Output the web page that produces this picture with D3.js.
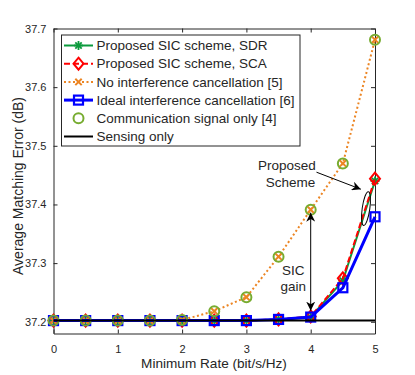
<!doctype html>
<html>
<head>
<meta charset="utf-8">
<title>Matching error vs minimum rate</title>
<script src="https://cdn.jsdelivr.net/npm/d3@7"></script>
<style>
  body { margin: 0; background: #fff; }
  svg text { font-family: "Liberation Sans", Arial, Helvetica, sans-serif; fill: #262626; }
</style>
</head>
<body>
<div class="graphContainer"></div>
<script>
// data
var rates = [0, 0.5, 1, 1.5, 2, 2.5, 3, 3.5, 4, 4.5, 5];
var sdr   = [37.202, 37.202, 37.202, 37.202, 37.202, 37.202, 37.202, 37.204, 37.208, 37.270, 37.440];
var sca   = [37.202, 37.202, 37.202, 37.202, 37.202, 37.202, 37.202, 37.204, 37.209, 37.274, 37.444];
var noCancel = [37.202, 37.202, 37.202, 37.202, 37.203, 37.218, 37.242, 37.311, 37.391, 37.470, 37.681];
var ideal = [37.202, 37.202, 37.202, 37.202, 37.202, 37.202, 37.202, 37.204, 37.208, 37.258, 37.379];
var commOnly = [37.202, 37.202, 37.202, 37.202, 37.203, 37.218, 37.242, 37.311, 37.391, 37.470, 37.681];
var sensingOnly = 37.202;

var xTicks = [0, 1, 2, 3, 4, 5];
var yTicks = [37.2, 37.3, 37.4, 37.5, 37.6, 37.7];

var legendLabels = [
  "Proposed SIC scheme, SDR",
  "Proposed SIC scheme, SCA",
  "No interference cancellation [5]",
  "Ideal interference cancellation [6]",
  "Communication signal only [4]",
  "Sensing only"
];

var w = 415, h = 375;
var axL = 53.5, axR = 375, axT = 28.5, axB = 333.5;

var svg = d3.select(".graphContainer").append("svg")
    .attr("width", w).attr("height", h);

var x = d3.scaleLinear().domain([0, 5]).range([axL, axR]);
var y = d3.scaleLinear().domain([37.18, 37.7]).range([axB, axT]);

var axisColor = "#262626";

// axes box with inward ticks
function styleAxis(g) {
  g.selectAll("path").attr("stroke", axisColor);
  g.selectAll("line").attr("stroke", axisColor);
  g.selectAll("text").style("font-size", "11px").style("fill", axisColor);
}
svg.append("g").attr("transform", "translate(0," + axB + ")")
  .call(d3.axisBottom(x).tickValues(xTicks).tickFormat(d3.format("d")).tickSizeInner(-4).tickSizeOuter(0).tickPadding(12))
  .call(styleAxis);
svg.append("g").attr("transform", "translate(0," + axT + ")")
  .call(d3.axisTop(x).tickValues(xTicks).tickFormat("").tickSizeInner(-4).tickSizeOuter(0))
  .call(styleAxis);
svg.append("g").attr("transform", "translate(" + axL + ",0)")
  .call(d3.axisLeft(y).tickValues(yTicks).tickFormat(d3.format(".1f")).tickSizeInner(-4).tickSizeOuter(0).tickPadding(7))
  .call(styleAxis);
svg.append("g").attr("transform", "translate(" + axR + ",0)")
  .call(d3.axisRight(y).tickValues(yTicks).tickFormat("").tickSizeInner(-4).tickSizeOuter(0))
  .call(styleAxis);

svg.append("text").attr("x", 214).attr("y", 368)
  .attr("text-anchor", "middle").style("font-size", "13.6px").text("Minimum Rate (bit/s/Hz)");
svg.append("text").attr("transform", "translate(18.5,186) rotate(-90)")
  .attr("text-anchor", "middle").attr("dy", "0.35em").style("font-size", "14px").text("Average Matching Error (dB)");

var plot = svg.append("g");

// marker helpers
function marker(g, kind, cx, cy, color) {
  if (kind === "star") {
    var r = 4.5;
    [0, 45, 90, 135].forEach(function(a) {
      var t = a * Math.PI / 180;
      g.append("line").attr("x1", cx - r * Math.cos(t)).attr("y1", cy - r * Math.sin(t))
        .attr("x2", cx + r * Math.cos(t)).attr("y2", cy + r * Math.sin(t))
        .attr("stroke", color).attr("stroke-width", 1.8);
    });
  } else if (kind === "diamond") {
    g.append("path").attr("d", "M" + cx + "," + (cy - 6) + "L" + (cx + 5) + "," + cy + "L" + cx + "," + (cy + 6) + "L" + (cx - 5) + "," + cy + "Z")
      .attr("fill", "none").attr("stroke", color).attr("stroke-width", 2);
  } else if (kind === "x") {
    var s = 3.2;
    g.append("path").attr("d", "M" + (cx - s) + "," + (cy - s) + "L" + (cx + s) + "," + (cy + s) + "M" + (cx - s) + "," + (cy + s) + "L" + (cx + s) + "," + (cy - s))
      .attr("stroke", color).attr("stroke-width", 2);
  } else if (kind === "square") {
    g.append("rect").attr("x", cx - 4.5).attr("y", cy - 4.5).attr("width", 9).attr("height", 9)
      .attr("fill", "none").attr("stroke", color).attr("stroke-width", 2.2);
  } else if (kind === "circle") {
    g.append("circle").attr("cx", cx).attr("cy", cy).attr("r", 5)
      .attr("fill", "none").attr("stroke", color).attr("stroke-width", 2);
  }
}

var series = [
  { vals: sdr, color: "#0b9a3c", width: 2, dash: null, mk: "star" },
  { vals: sca, color: "#ff0000", width: 2, dash: "6,3", mk: "diamond" },
  { vals: noCancel, color: "#ec8523", width: 2, dash: "2,2.5", mk: "x" },
  { vals: ideal, color: "#0000ff", width: 3, dash: null, mk: "square" },
  { vals: commOnly, color: "#77ac30", width: 0, dash: null, mk: "circle" }
];

var line = d3.line().x(function(d, i) { return x(rates[i]); }).y(function(d) { return y(d); });

series.forEach(function(s) {
  var g = plot.append("g");
  if (s.width > 0) {
    g.append("path").datum(s.vals).attr("d", line)
      .attr("fill", "none").attr("stroke", s.color).attr("stroke-width", s.width)
      .attr("stroke-dasharray", s.dash);
  }
  s.vals.forEach(function(v, i) { marker(g, s.mk, x(rates[i]), y(v), s.color); });
});

// sensing only
plot.append("line").attr("x1", x(0)).attr("x2", x(5))
  .attr("y1", y(sensingOnly)).attr("y2", y(sensingOnly))
  .attr("stroke", "#000").attr("stroke-width", 2);

// annotations
var defs = svg.append("defs");
defs.append("marker").attr("id", "arr").attr("viewBox", "0 0 10 10").attr("refX", 10).attr("refY", 5)
  .attr("markerWidth", 9).attr("markerHeight", 9).attr("markerUnits", "userSpaceOnUse").attr("orient", "auto-start-reverse")
  .append("path").attr("d", "M0,0L10,5L0,10L3,5Z").attr("fill", "#000");

svg.append("text").attr("x", x(3.63)).attr("y", y(37.459)).attr("text-anchor", "middle")
  .style("font-size", "13.5px").text("Proposed");
svg.append("text").attr("x", x(3.686)).attr("y", y(37.429)).attr("text-anchor", "middle")
  .style("font-size", "13.5px").text("Scheme");
svg.append("line").attr("x1", x(4.09)).attr("y1", y(37.455)).attr("x2", x(4.78)).attr("y2", y(37.426))
  .attr("stroke", "#000").attr("stroke-width", 1).attr("marker-end", "url(#arr)");
svg.append("ellipse").attr("cx", x(4.86)).attr("cy", y(37.393)).attr("rx", 3.8).attr("ry", 17)
  .attr("transform", "rotate(8," + x(4.86) + "," + y(37.393) + ")")
  .attr("fill", "none").attr("stroke", "#000").attr("stroke-width", 1);

svg.append("text").attr("x", x(3.73)).attr("y", y(37.2795)).attr("text-anchor", "middle")
  .style("font-size", "13.5px").text("SIC");
svg.append("text").attr("x", x(3.73)).attr("y", y(37.252)).attr("text-anchor", "middle")
  .style("font-size", "13.5px").text("gain");
svg.append("line").attr("x1", x(4)).attr("y1", y(37.386)).attr("x2", x(4)).attr("y2", y(37.219))
  .attr("stroke", "#000").attr("stroke-width", 1)
  .attr("marker-start", "url(#arr)").attr("marker-end", "url(#arr)");

// legend
var lx = 61.5, ly = 35, lw = 238.5, lh = 111;
var leg = svg.append("g");
leg.append("rect").attr("x", lx).attr("y", ly).attr("width", lw).attr("height", lh)
  .attr("fill", "#fff").attr("stroke", axisColor).attr("stroke-width", 1);
var legendStyle = series.concat([{ color: "#000", width: 2, dash: null, mk: null }]);
legendLabels.forEach(function(lab, i) {
  var yy = 45.5 + i * 18.2;
  var s = legendStyle[i];
  if (s.width > 0) {
    leg.append("line").attr("x1", 64).attr("x2", 93).attr("y1", yy).attr("y2", yy)
      .attr("stroke", s.color).attr("stroke-width", s.width).attr("stroke-dasharray", s.dash);
  }
  if (s.mk) marker(leg, s.mk, 78.5, yy, s.color);
  leg.append("text").attr("x", 96.5).attr("y", yy).attr("dy", "0.35em")
    .style("font-size", "13.5px").text(lab);
});
</script>
</body>
</html>
